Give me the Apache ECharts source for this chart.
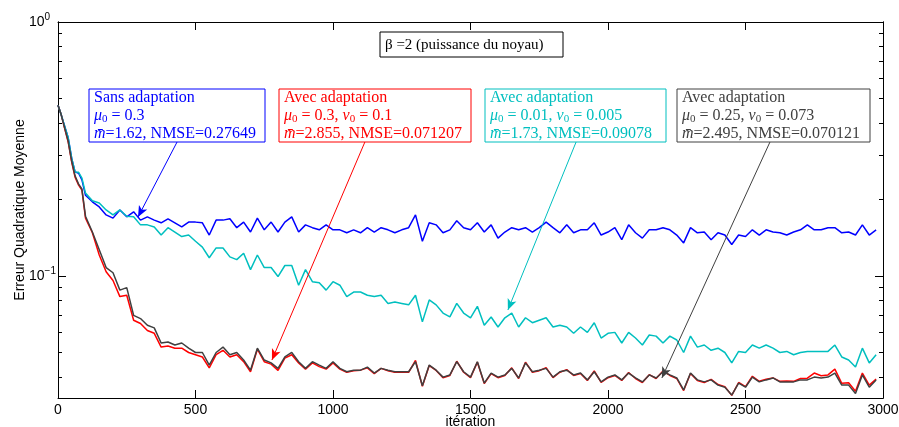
<!DOCTYPE html>
<html>
<head>
<meta charset="utf-8">
<script src="https://cdn.jsdelivr.net/npm/echarts@6/dist/echarts.min.js"></script>
<style>html,body{margin:0;padding:0;background:#fff;}#c{width:899px;height:427px;}</style>
</head>
<body>
<div id="c"></div>
<script>
// ---- data ----
const iterHead = [0, 12, 25, 37, 50, 62, 75, 87, 100];
const iterations = iterHead.slice();
for (let it = 125; it <= 2975; it += 25) iterations.push(it);

const blueSans = [0.47,0.43,0.386,0.35,0.29,0.257,0.254,0.239,0.208,
0.196,0.187,0.174,0.169,0.182,0.171,0.179,0.166,0.171,0.166,0.162,0.168,0.162,0.156,0.163,0.163,
0.162,0.145,0.166,0.166,0.168,0.155,0.163,0.149,0.169,0.152,0.163,0.149,0.163,0.171,0.149,0.159,
0.155,0.152,0.159,0.152,0.152,0.148,0.152,0.148,0.155,0.149,0.155,0.152,0.148,0.152,0.155,0.174,
0.137,0.162,0.159,0.148,0.152,0.165,0.155,0.152,0.162,0.149,0.159,0.141,0.149,0.155,0.152,0.155,
0.149,0.155,0.163,0.155,0.148,0.159,0.148,0.152,0.152,0.162,0.145,0.149,0.155,0.139,0.159,0.148,
0.141,0.152,0.152,0.155,0.152,0.145,0.135,0.155,0.148,0.149,0.139,0.148,0.145,0.133,0.145,0.143,
0.152,0.145,0.152,0.149,0.148,0.145,0.149,0.152,0.159,0.152,0.152,0.155,0.155,0.148,0.149,0.145,
0.159,0.145,0.152];

const redAvec = [0.47,0.43,0.378,0.337,0.28,0.245,0.228,0.218,0.169,
0.148,0.121,0.104,0.096,0.083,0.084,0.067,0.065,0.061,0.0595,0.0525,0.053,0.052,0.052,0.050,0.049,
0.048,0.0435,0.049,0.051,0.048,0.049,0.046,0.042,0.0515,0.046,0.045,0.0425,0.0475,0.049,0.0455,0.043,
0.0455,0.044,0.043,0.0455,0.043,0.0418,0.0424,0.0426,0.0435,0.0413,0.0433,0.0424,0.0418,0.0419,0.0418,0.0465,
0.0368,0.0444,0.0425,0.0398,0.0406,0.0462,0.0418,0.0398,0.0458,0.0377,0.0413,0.0398,0.0406,0.0435,0.0395,0.0458,
0.0418,0.0424,0.0436,0.0398,0.0418,0.0428,0.0406,0.0413,0.0388,0.0423,0.0381,0.0398,0.0406,0.0388,0.0417,0.0395,
0.0381,0.0409,0.0395,0.0423,0.0406,0.0395,0.0354,0.0413,0.0388,0.0381,0.0392,0.0374,0.0367,0.0339,0.0381,0.0367,
0.0403,0.0385,0.0392,0.0397,0.0385,0.0386,0.0385,0.0395,0.0396,0.0415,0.0405,0.0408,0.043,0.0378,0.038,0.0352,
0.0415,0.0372,0.0393];

const cyanAvec = [0.47,0.43,0.386,0.35,0.29,0.257,0.256,0.243,0.212,
0.198,0.194,0.182,0.174,0.182,0.172,0.171,0.159,0.159,0.156,0.145,0.155,0.149,0.143,0.145,0.137,
0.130,0.118,0.129,0.129,0.119,0.116,0.123,0.106,0.121,0.108,0.108,0.0995,0.110,0.110,0.092,0.106,
0.095,0.094,0.088,0.095,0.092,0.083,0.0865,0.0865,0.084,0.083,0.084,0.078,0.079,0.078,0.077,0.084,
0.066,0.0805,0.077,0.0715,0.069,0.078,0.0715,0.0685,0.076,0.064,0.069,0.063,0.0685,0.0715,0.063,0.0685,
0.0655,0.067,0.0685,0.063,0.064,0.063,0.0595,0.063,0.060,0.0655,0.057,0.0595,0.060,0.0545,0.060,0.057,
0.0535,0.0586,0.058,0.0545,0.058,0.056,0.050,0.058,0.0525,0.0535,0.051,0.052,0.050,0.0455,0.0505,0.050,
0.0535,0.052,0.0535,0.052,0.050,0.0505,0.049,0.050,0.0505,0.0505,0.0505,0.0505,0.0535,0.048,0.0467,0.0438,
0.052,0.0455,0.049];

const grayAvec = [0.47,0.43,0.38,0.34,0.283,0.248,0.23,0.22,0.172,
0.149,0.127,0.108,0.103,0.088,0.090,0.070,0.068,0.064,0.0625,0.0545,0.055,0.0535,0.0545,0.052,0.050,
0.050,0.0446,0.050,0.0525,0.049,0.050,0.0467,0.0426,0.052,0.0467,0.0455,0.0433,0.048,0.050,0.046,0.0433,
0.046,0.0446,0.0433,0.046,0.0433,0.042,0.0426,0.0426,0.0438,0.0415,0.0433,0.0426,0.042,0.042,0.042,0.046,
0.037,0.0446,0.0426,0.040,0.0408,0.046,0.042,0.040,0.046,0.0379,0.0415,0.040,0.0408,0.0433,0.0397,0.0455,
0.042,0.0426,0.0433,0.040,0.042,0.0426,0.0408,0.0415,0.039,0.042,0.0383,0.040,0.0408,0.039,0.0415,0.0397,
0.0383,0.0408,0.0397,0.042,0.0408,0.0397,0.0356,0.0415,0.039,0.0383,0.039,0.0372,0.0365,0.034,0.0379,0.0365,
0.040,0.0383,0.039,0.0397,0.0383,0.0383,0.0383,0.039,0.039,0.040,0.0397,0.040,0.0415,0.0372,0.0372,0.0345,
0.0408,0.0365,0.039];

const xTicks = [0, 500, 1000, 1500, 2000, 2500, 3000];
const yMajor = [0.1, 1];
const yMinor = [0.04,0.05,0.06,0.07,0.08,0.09,0.2,0.3,0.4,0.5,0.6,0.7,0.8,0.9];
const Y_MIN = 0.0331, Y_MAX = 1;

// annotation arrows in data coords [start, tip]
const arrowBlue = [[433, 0.337], [291, 0.1707]];
const arrowRed = [[1116, 0.337], [778, 0.0467]];
const arrowCyan = [[1884, 0.337], [1636, 0.0735]];
const arrowGray = [[2589, 0.337], [2196, 0.0397]];

const C_BLUE = '#0000ff', C_RED = '#ff0000', C_CYAN = '#00bfbf', C_GRAY = '#404040';
const SANS = '"Liberation Sans", Arial, sans-serif';
const SERIF = '"Liberation Serif", "DejaVu Serif", serif';

const chart = echarts.init(document.getElementById('c'), null, {renderer: 'canvas'});

function pairs(vals) { return iterations.map((it, k) => [it, vals[k]]); }
function arrow(a, color) {
  return {
    silent: true, symbol: ['none', 'arrow'], symbolSize: [7, 11],
    label: {show: false},
    lineStyle: {color: color, width: 1, type: 'solid'},
    emphasis: {disabled: true},
    data: [[{coord: a[0]}, {coord: a[1]}]]
  };
}
function lineSeries(name, vals, color, a) {
  return {
    name: name, type: 'line', data: pairs(vals), showSymbol: false, symbol: 'none',
    lineStyle: {color: color, width: 1.5}, itemStyle: {color: color},
    xAxisIndex: 0, yAxisIndex: 0, animation: false, silent: true,
    markLine: arrow(a, color)
  };
}

function yAx(pos, ticks, len, labels) {
  const ax = {
    type: 'log', logBase: 10, min: Y_MIN, max: Y_MAX, position: pos, offset: 0,
    splitLine: {show: false},
    axisLine: {show: true, lineStyle: {color: '#000', width: 1}},
    axisTick: {show: true, inside: true, length: len, customValues: ticks, lineStyle: {color: '#000', width: 1}},
    axisLabel: {show: false}
  };
  if (labels) {
    ax.axisLabel = {
      show: true, customValues: yMajor, align: 'left', margin: 29,
      formatter: v => '{b|10}{e|' + (Math.round(Math.log10(v)) === 0 ? '0' : '\u22121') + '}',
      rich: {
        b: {fontFamily: SANS, fontSize: 14, color: '#000', lineHeight: 20, verticalAlign: 'middle'},
        e: {fontFamily: SANS, fontSize: 10, color: '#000', lineHeight: 20, verticalAlign: 'top'}
      }
    };
    ax.name = 'Erreur Quadratique Moyenne';
    ax.nameLocation = 'middle';
    ax.nameGap = 31;
    ax.nameMoveOverlap = false;
    ax.nameTextStyle = {fontFamily: SANS, fontSize: 14, color: '#000'};
  }
  return ax;
}

function richFor(color, size, lh) {
  const base = {fontFamily: SERIF, fontSize: size, lineHeight: lh, fill: color, color: color};
  return {
    t: base,
    i: Object.assign({}, base, {fontStyle: 'italic'}),
    s: Object.assign({}, base, {fontSize: 11, verticalAlign: 'bottom'})
  };
}
function box(x, y, w, h, color, text, size, lh, dy) {
  return [
    {type: 'rect', shape: {x: x, y: y, width: w, height: h}, style: {fill: '#fff', stroke: color, lineWidth: 1}, z: 100, silent: true},
    {type: 'text', x: x + 5, y: y + dy, z: 101, silent: true,
     style: {text: text, rich: richFor(color, size, lh), fill: color, align: 'left', verticalAlign: 'top', textAlign: 'left', textVerticalAlign: 'top',
             font: size + 'px ' + SERIF}}
  ];
}

const graphics = [].concat(
  box(380, 32, 183, 25, '#000', '{t|\u03b2 =2 (puissance du noyau)}', 15, 18, 4),
  box(89, 89, 176, 53, C_BLUE, '{t|Sans adaptation}\n{i|\u03bc}{s|0}{t| = 0.3}\n{i|m\u0304}{t|=1.62, NMSE=0.27649}', 16, 18, 0),
  box(279, 89, 192, 53, C_RED, '{t|Avec adaptation}\n{i|\u03bc}{s|0}{t| = 0.3, }{i|\u03bd}{s|0}{t| = 0.1}\n{i|m\u0304}{t|=2.855, NMSE=0.071207}', 16, 18, 0),
  box(485, 89, 181, 53, C_CYAN, '{t|Avec adaptation}\n{i|\u03bc}{s|0}{t| = 0.01, }{i|\u03bd}{s|0}{t| = 0.005}\n{i|m\u0304}{t|=1.73, NMSE=0.09078}', 16, 18, 0),
  box(677, 89, 193, 53, C_GRAY, '{t|Avec adaptation}\n{i|\u03bc}{s|0}{t| = 0.25, }{i|\u03bd}{s|0}{t| = 0.073}\n{i|m\u0304}{t|=2.495, NMSE=0.070121}', 16, 18, 0)
);

const xBase = {
  type: 'value', min: 0, max: 3000, interval: 500,
  splitLine: {show: false},
  axisLine: {show: true, onZero: false, lineStyle: {color: '#000', width: 1}},
  axisTick: {show: true, inside: true, length: 8, lineStyle: {color: '#000', width: 1}}
};

chart.setOption({
  animation: false,
  backgroundColor: '#fff',
  grid: {left: 58, right: 16, top: 22, bottom: 29, containLabel: false, outerBoundsMode: 'none'},
  xAxis: [
    Object.assign({}, xBase, {
      position: 'bottom',
      axisLabel: {show: true, color: '#000', fontFamily: SANS, fontSize: 14, margin: 5,
                  customValues: xTicks, formatter: v => String(v)},
      name: 'it\u00e9ration', nameLocation: 'middle', nameGap: 17, nameMoveOverlap: false,
      nameTextStyle: {fontFamily: SANS, fontSize: 14, color: '#000'}
    }),
    Object.assign({}, xBase, {position: 'top', axisLabel: {show: false}})
  ],
  yAxis: [
    yAx('left', yMajor, 8, true),
    yAx('left', yMinor, 4, false),
    yAx('right', yMajor, 8, false),
    yAx('right', yMinor, 4, false)
  ],
  series: [
    lineSeries('Sans adaptation', blueSans, C_BLUE, arrowBlue),
    lineSeries('Avec adaptation (0.3, 0.1)', redAvec, C_RED, arrowRed),
    lineSeries('Avec adaptation (0.01, 0.005)', cyanAvec, C_CYAN, arrowCyan),
    lineSeries('Avec adaptation (0.25, 0.073)', grayAvec, C_GRAY, arrowGray)
  ],
  graphic: graphics
});
</script>
</body>
</html>
